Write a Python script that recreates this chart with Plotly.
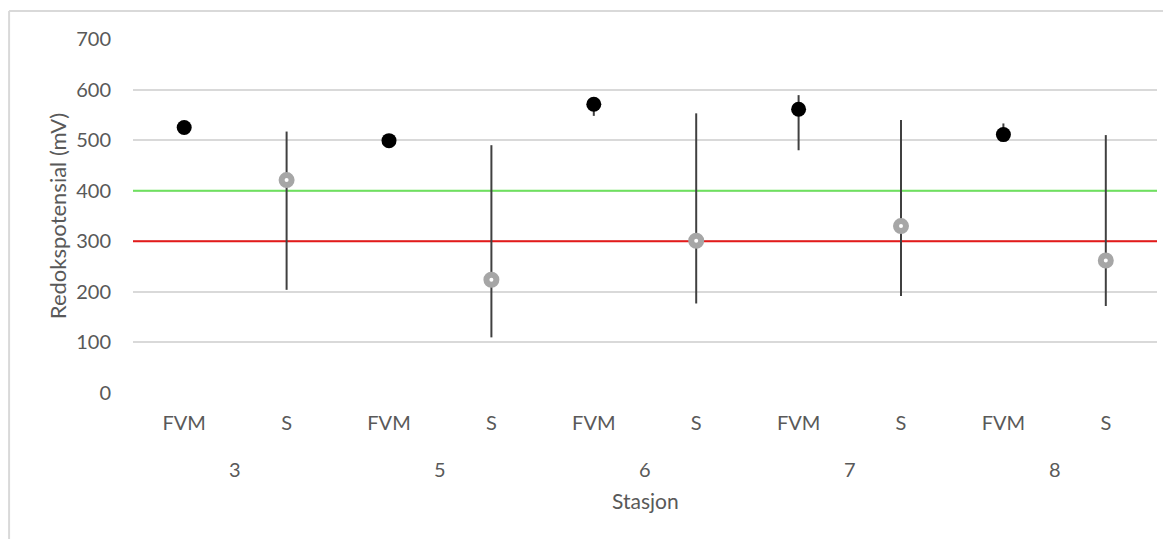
import plotly.graph_objects as go

stations = ["3", "5", "6", "7", "8"]
types = ["FVM", "S"]
fvm_mean = [525, 499, 571, 561, 511]
fvm_plus = [8, 8, 8, 28, 22]
fvm_minus = [10, 8, 23, 81, 8]
s_mean = [421, 224, 301, 330, 262]
s_plus = [96, 266, 252, 210, 248]
s_minus = [217, 114, 124, 138, 90]
green_level = 400
red_level = 300
y_ticks = [0, 100, 200, 300, 400, 500, 600, 700]

categories = [t for st in stations for t in types]
x_fvm = [2 * i for i in range(len(stations))]
x_s = [2 * i + 1 for i in range(len(stations))]
x_range = [-0.5, len(categories) - 0.5]

FONT = "Lato, Calibri, sans-serif"
TXT = "#595959"

fig = go.Figure()

# threshold lines (drawn as traces so they sit above gridlines, below markers)
fig.add_trace(go.Scatter(x=x_range, y=[green_level, green_level], mode="lines",
                         line=dict(color="#6ee25e", width=2), hoverinfo="skip"))
fig.add_trace(go.Scatter(x=x_range, y=[red_level, red_level], mode="lines",
                         line=dict(color="#e41a1a", width=2), hoverinfo="skip"))

fig.add_trace(go.Scatter(
    x=x_fvm, y=fvm_mean, mode="markers", name="FVM",
    marker=dict(symbol="circle", size=15, color="black"),
    error_y=dict(type="data", symmetric=False, array=fvm_plus, arrayminus=fvm_minus,
                 color="#404040", thickness=2, width=0),
))
fig.add_trace(go.Scatter(
    x=x_s, y=s_mean, mode="markers", name="S",
    marker=dict(symbol="circle", size=10, color="white",
                line=dict(color="#a6a6a6", width=6)),
    error_y=dict(type="data", symmetric=False, array=s_plus, arrayminus=s_minus,
                 color="#404040", thickness=2, width=0),
))

for i, st in enumerate(stations):
    fig.add_annotation(x=(x_fvm[i] + x_s[i]) / 2, y=-0.2147, xref="x", yref="paper",
                       text=st, showarrow=False, yanchor="middle",
                       font=dict(family=FONT, size=20, color=TXT))
fig.add_annotation(x=0.5, y=-0.305, xref="paper", yref="paper", text="Stasjon",
                   showarrow=False, yanchor="middle",
                   font=dict(family=FONT, size=21, color=TXT))

# chart border (top and left)
fig.add_shape(type="line", xref="paper", yref="paper", x0=-0.121, x1=1.02, y0=1.079, y1=1.079,
              line=dict(color="#d9d9d9", width=2))
fig.add_shape(type="line", xref="paper", yref="paper", x0=-0.121, x1=-0.121, y0=1.079, y1=-0.42,
              line=dict(color="#d9d9d9", width=2))

fig.update_layout(
    width=1163, height=531,
    margin=dict(l=125, r=14, t=31, b=146),
    paper_bgcolor="white", plot_bgcolor="white",
    showlegend=False,
    font=dict(family=FONT, size=20, color=TXT),
)
fig.update_xaxes(
    range=x_range,
    tickmode="array", tickvals=list(range(len(categories))), ticktext=categories,
    showgrid=False, zeroline=False, showline=False,
    ticks="outside", ticklen=12, tickcolor="rgba(0,0,0,0)",
    tickfont=dict(family=FONT, size=20, color=TXT),
)
fig.update_yaxes(
    range=[0, 700], tickvals=y_ticks,
    showgrid=True, gridcolor="#d9d9d9", gridwidth=2,
    zeroline=False, showline=False,
    ticks="outside", ticklen=17, tickcolor="rgba(0,0,0,0)",
    tickfont=dict(family=FONT, size=20, color=TXT),
    title=dict(text="Redokspotensial (mV)", standoff=3,
               font=dict(family=FONT, size=22, color=TXT)),
)

fig.write_html("out.html")
